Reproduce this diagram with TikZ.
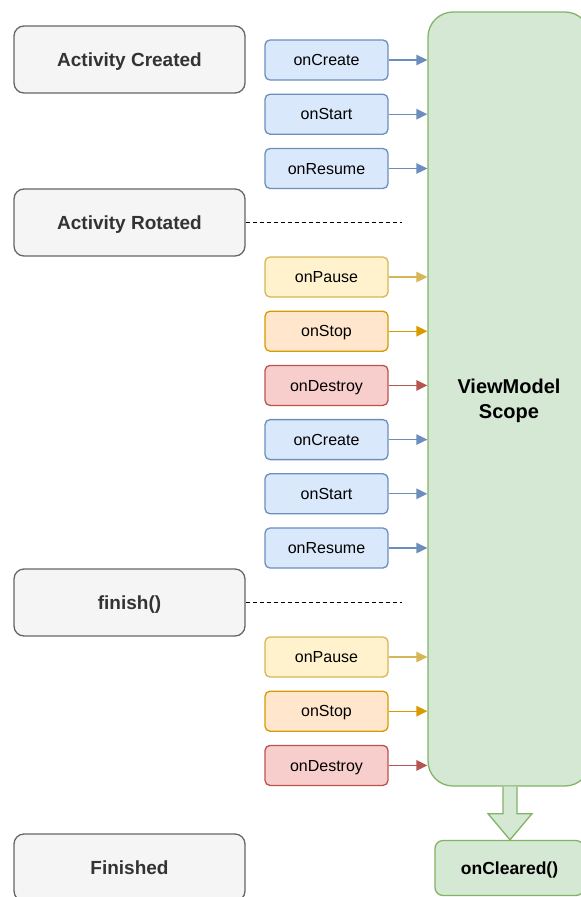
\documentclass[tikz,border=0pt]{standalone}
\usepackage{fontspec}
\setmainfont{Liberation Sans}
\usetikzlibrary{arrows.meta,calc}

\definecolor{stateFill}{HTML}{F5F5F5}
\definecolor{stateLine}{HTML}{666666}
\definecolor{stateText}{HTML}{333333}
\definecolor{blueFill}{HTML}{DAE8FC}
\definecolor{blueLine}{HTML}{6C8EBF}
\definecolor{yellowFill}{HTML}{FFF2CC}
\definecolor{yellowLine}{HTML}{D6B656}
\definecolor{orangeFill}{HTML}{FFE6CC}
\definecolor{orangeLine}{HTML}{D79B00}
\definecolor{redFill}{HTML}{F8CECC}
\definecolor{redLine}{HTML}{B85450}
\definecolor{greenFill}{HTML}{D5E8D4}
\definecolor{greenLine}{HTML}{82B366}

\tikzset{
  statebox/.style={draw=stateLine, fill=stateFill, line width=1.3pt,
    rounded corners=10pt, minimum width=231pt, minimum height=67pt,
    inner sep=0pt, text=stateText, text height=13.6pt, text depth=0pt,
    font=\fontsize{19}{22}\selectfont\bfseries},
  callback/.style={line width=1.3pt, rounded corners=5pt,
    minimum width=123pt, minimum height=40pt, inner sep=0pt,
    text height=11.5pt, text depth=0pt,
    font=\fontsize{16}{19}\selectfont},
  bluebox/.style={callback, draw=blueLine, fill=blueFill},
  yellowbox/.style={callback, draw=yellowLine, fill=yellowFill},
  orangebox/.style={callback, draw=orangeLine, fill=orangeFill},
  redbox/.style={callback, draw=redLine, fill=redFill},
  callarrow/.style={line width=1.3pt, -{Triangle[length=11pt,width=10.5pt]}},
  divider/.style={line width=1.2pt, dash pattern=on 4pt off 3pt},
}

\begin{document}
\begin{tikzpicture}[x=1pt,y=-1pt]
\useasboundingbox (0,0) rectangle (581,897);
\clip (0,0) rectangle (581,897);

% lifecycle states on the left
\node[statebox] (created)  at (129.5,59.5)  {Activity Created};
\node[statebox] (rotated)  at (129.5,222.5) {Activity Rotated};
\node[statebox] (finish)   at (129.5,602.5) {finish()};
\node[statebox] (finished) at (129.5,867.5) {Finished};

% the ViewModel scope column
\node[draw=greenLine, fill=greenFill, line width=1.3pt, rounded corners=25pt,
      minimum width=162pt, minimum height=774pt, inner sep=0pt, align=center,
      text depth=-1pt,
      font=\fontsize{20}{25}\selectfont\bfseries] (vm) at (509,399)
      {ViewModel\\Scope};

% callbacks
\def\cx{326.5}
\node[bluebox]   (c1)  at (\cx,60)    {onCreate};
\node[bluebox]   (c2)  at (\cx,114.2) {onStart};
\node[bluebox]   (c3)  at (\cx,168.5) {onResume};
\node[yellowbox] (c4)  at (\cx,277)   {onPause};
\node[orangebox] (c5)  at (\cx,331.2) {onStop};
\node[redbox]    (c6)  at (\cx,385.4) {onDestroy};
\node[bluebox]   (c7)  at (\cx,439.6) {onCreate};
\node[bluebox]   (c8)  at (\cx,493.8) {onStart};
\node[bluebox]   (c9)  at (\cx,548)   {onResume};
\node[yellowbox] (c10) at (\cx,657)   {onPause};
\node[orangebox] (c11) at (\cx,711.2) {onStop};
\node[redbox]    (c12) at (\cx,765.4) {onDestroy};

% arrows into the scope
\foreach \n/\col in {c1/blueLine,c2/blueLine,c3/blueLine,c4/yellowLine,
                     c5/orangeLine,c6/redLine,c7/blueLine,c8/blueLine,
                     c9/blueLine,c10/yellowLine,c11/orangeLine,c12/redLine}
  \draw[callarrow, draw=\col, fill=\col] (\n.east) -- (\n.east -| vm.west);

% dashed separators
\coordinate (d1) at (402,222.5);
\coordinate (d2) at (402,602.5);
\draw[divider] (rotated.east) -- (d1);
\draw[divider] (finish.east) -- (d2);

% onCleared and the block arrow leading to it
\node[draw=greenLine, fill=greenFill, line width=1.3pt, rounded corners=8pt,
      minimum width=149pt, minimum height=55pt, inner sep=0pt,
      text height=12.5pt, text depth=0pt,
      font=\fontsize{17.5}{21}\selectfont\bfseries] (clr) at (509.5,868)
      {onCleared()};
\draw[draw=greenLine, fill=greenFill, line width=1.3pt, line join=miter]
  ($(vm.south)+(-6,0)$) -- ($(vm.south)+(-6,27)$) -- ($(vm.south)+(-21,27)$)
  -- ($(clr.north)+(0.5,0)$) -- ($(vm.south)+(23,27)$)
  -- ($(vm.south)+(8,27)$) -- ($(vm.south)+(8,0)$);
\end{tikzpicture}
\end{document}
